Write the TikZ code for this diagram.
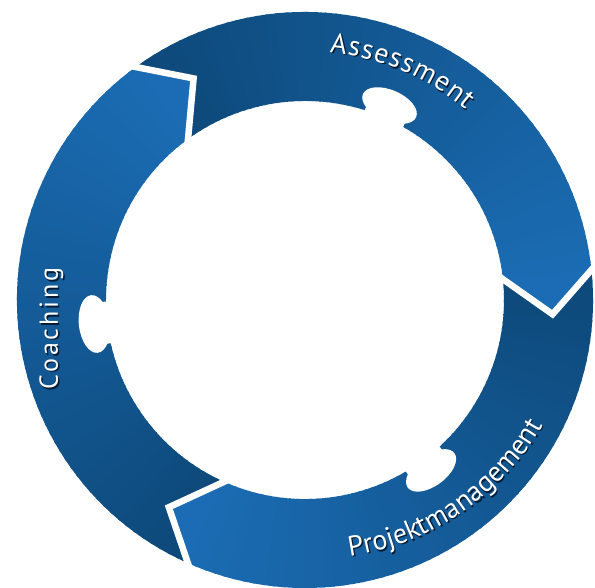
\documentclass[tikz,border=0pt]{standalone}
\usepackage{fontspec}
\usetikzlibrary{decorations.text,calc}
\newfontfamily\lblfont{PT Sans}
\definecolor{ringdark}{RGB}{13,73,122}
\definecolor{ringbright}{RGB}{27,108,180}
\definecolor{shadowc}{RGB}{6,28,52}
\newcommand\lblbig{\lblfont\fontsize{28}{32}\selectfont}
\newcommand\lblsmall{\lblfont\fontsize{26}{30}\selectfont}
\tikzset{
  gapline/.style={white,line width=6.5pt,line join=miter,miter limit=20},
  blobfill/.style={fill=white},
  shadowtext/.style={opacity=0.5},
}
\begin{document}
\begin{tikzpicture}[x=1pt,y=1pt]
\def\Ro{288}\def\Ri{199}\def\Rap{248}\def\Off{9.3}
\useasboundingbox (-305,-288) rectangle (290,300);
% ring segments with angular gradient (dark at tail, bright at head)
\foreach \a in {126,6,246}{
  \begin{scope}
    \clip (\a:\Ro) arc[start angle=\a, end angle=\a-120, radius=\Ro]
      -- ({\a-120-\Off}:\Rap) -- ({\a-120}:\Ri)
      arc[start angle=\a-120, end angle=\a, radius=\Ri]
      -- ({\a-\Off}:\Rap) -- cycle;
    \foreach \k in {0,...,72}{
      \pgfmathsetmacro\th{\a+4-2*\k}
      \pgfmathtruncatemacro\p{max(0,min(100,(\a-\th)/120*100))}
      \fill[ringbright!\p!ringdark] (0,0) -- (\th:300)
        arc[start angle=\th, end angle=\th-2.6, radius=300] -- cycle;
    }
  \end{scope}
}
% puzzle knobs
\foreach \b in {66.5,-53.5,186.5}{
  \fill[blobfill, rotate=\b] (212,0) ellipse[x radius=15.5, y radius=29];
  \fill[blobfill, rotate=\b] (186,-21) rectangle (212,21);
}
% chevron gaps
\foreach \g/\n in {126/a,6/b,246/c}{
  \coordinate (in\n) at (\g:\Ri);
  \coordinate (ap\n) at ({\g-\Off}:\Rap);
  \coordinate (out\n) at (\g:\Ro);
  \draw[gapline] ($(ap\n)!1.25!(in\n)$) -- (ap\n) -- ($(ap\n)!1.25!(out\n)$);
}
% labels: shadows
\begin{scope}[shift={(1.4,-1.4)}]
\path[shadowtext, decorate, decoration={text along path, text align=fit to path,
  text={|\lblbig\color{shadowc}|Assessment}}]
  (84.3:249) arc[start angle=84.3, end angle=49.8, radius=249];
\path[shadowtext, decorate, decoration={text along path, text align=fit to path,
  text={|\lblbig\color{shadowc}|Projektmanagement}}]
  plot[domain=-80.1:-27.7, samples=40, variable=\t] (\t:{260+(\t+80.1)*0.17});
\path[shadowtext, decorate, decoration={text along path, text align=fit to path,
  text={|\lblsmall\color{shadowc}|Coaching}}]
  (-247,-90) -- (-247,32);
\end{scope}
% labels
\path[decorate, decoration={text along path, text align=fit to path,
  text={|\lblbig\color{white}|Assessment}}]
  (84.3:249) arc[start angle=84.3, end angle=49.8, radius=249];
\path[decorate, decoration={text along path, text align=fit to path,
  text={|\lblbig\color{white}|Projektmanagement}}]
  plot[domain=-80.1:-27.7, samples=40, variable=\t] (\t:{260+(\t+80.1)*0.17});
\path[decorate, decoration={text along path, text align=fit to path,
  text={|\lblsmall\color{white}|Coaching}}]
  (-247,-90) -- (-247,32);
\end{tikzpicture}
\end{document}
